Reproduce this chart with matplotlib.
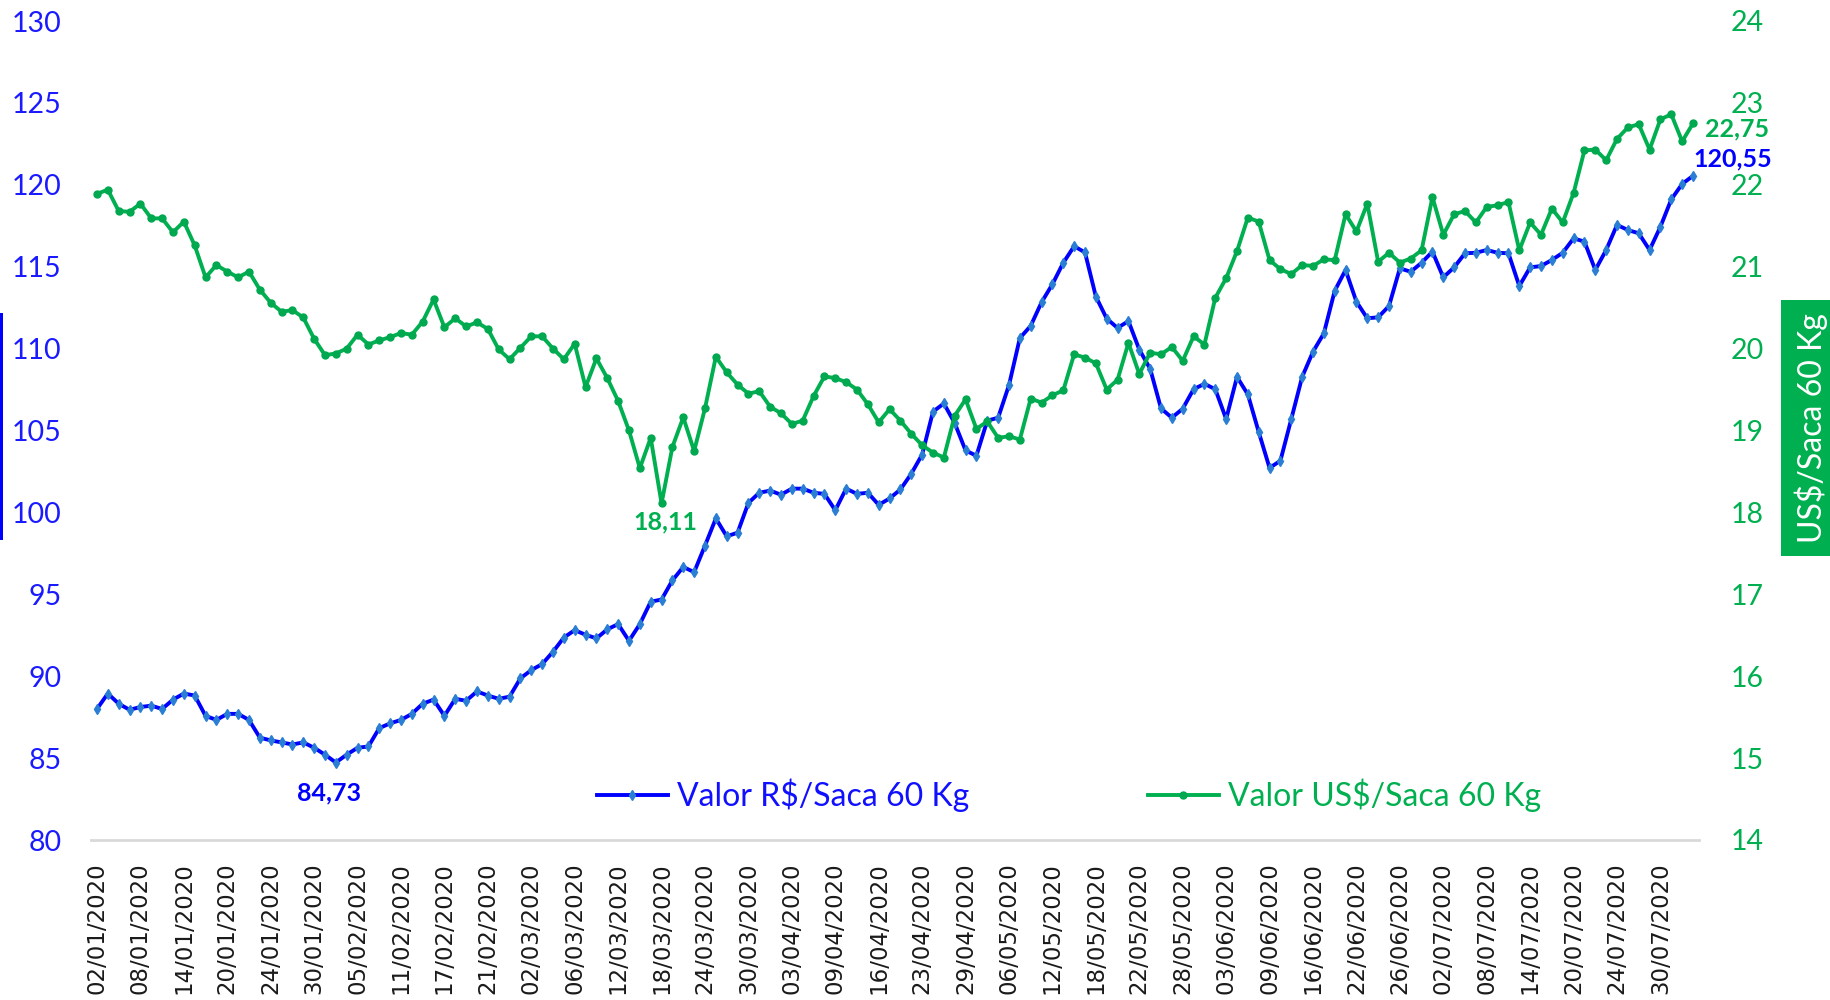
import pandas as pd
import matplotlib
matplotlib.use("Agg")
import matplotlib.pyplot as plt
from matplotlib.patches import Rectangle

# trading days 02/01/2020 .. 04/08/2020 (B3 holidays removed)
holidays = ["2020-02-24", "2020-02-25", "2020-04-10", "2020-04-21", "2020-05-01", "2020-06-11"]
dates = pd.bdate_range("2020-01-02", "2020-08-04")
dates = dates[~dates.isin(pd.to_datetime(holidays))]
labels = [d.strftime("%d/%m/%Y") for d in dates]

valor_rs = [
    88.00, 88.94, 88.32, 87.95, 88.12, 88.20, 88.00, 88.57, 88.94, 88.82,
    87.58, 87.33, 87.70, 87.70, 87.33, 86.25, 86.08, 85.96, 85.83, 85.96,
    85.63, 85.21, 84.73, 85.21, 85.63, 85.71, 86.83, 87.12, 87.33, 87.70,
    88.32, 88.57, 87.58, 88.62, 88.50, 89.07, 88.82, 88.62, 88.75, 89.87,
    90.37, 90.74, 91.49, 92.36, 92.81, 92.53, 92.31, 92.86, 93.18, 92.16,
    93.18, 94.55, 94.68, 95.85, 96.67, 96.35, 97.97, 99.63, 98.54, 98.76,
    100.58, 101.20, 101.33, 101.08, 101.45, 101.45, 101.20, 101.13, 100.13, 101.45,
    101.13, 101.20, 100.46, 100.85, 101.40, 102.36, 103.53, 106.15, 106.65, 105.45,
    103.78, 103.46, 105.60, 105.78, 107.77, 110.64, 111.39, 112.83, 113.93, 115.24,
    116.25, 115.87, 113.18, 111.83, 111.26, 111.68, 109.94, 108.77, 106.35, 105.78,
    106.33, 107.52, 107.85, 107.52, 105.70, 108.27, 107.20, 104.91, 102.71, 103.16,
    105.70, 108.27, 109.81, 110.93, 113.53, 114.80, 112.86, 111.85, 111.91, 112.60,
    114.90, 114.69, 115.24, 115.92, 114.35, 114.96, 115.82, 115.85, 116.02, 115.85,
    115.82, 113.82, 114.96, 115.04, 115.41, 115.85, 116.73, 116.53, 114.80, 116.02,
    117.55, 117.24, 117.04, 116.02, 117.44, 119.11, 120.05, 120.55,
]

valor_us = [
    21.89, 21.94, 21.68, 21.67, 21.77, 21.59, 21.59, 21.42, 21.55, 21.26,
    20.87, 21.02, 20.94, 20.87, 20.94, 20.72, 20.56, 20.45, 20.47, 20.38,
    20.12, 19.92, 19.94, 20.00, 20.17, 20.05, 20.10, 20.14, 20.19, 20.17,
    20.33, 20.60, 20.26, 20.37, 20.27, 20.32, 20.24, 19.99, 19.87, 20.01,
    20.15, 20.15, 20.00, 19.87, 20.06, 19.53, 19.88, 19.64, 19.36, 19.00,
    18.54, 18.91, 18.11, 18.80, 19.16, 18.75, 19.27, 19.90, 19.71, 19.56,
    19.45, 19.48, 19.29, 19.21, 19.08, 19.12, 19.42, 19.66, 19.64, 19.59,
    19.50, 19.32, 19.10, 19.26, 19.12, 18.96, 18.82, 18.73, 18.67, 19.18,
    19.38, 19.02, 19.11, 18.91, 18.93, 18.89, 19.39, 19.34, 19.43, 19.49,
    19.93, 19.89, 19.82, 19.50, 19.62, 20.07, 19.69, 19.95, 19.93, 20.02,
    19.85, 20.15, 20.05, 20.62, 20.86, 21.19, 21.60, 21.55, 21.08, 20.97,
    20.91, 21.02, 21.01, 21.09, 21.08, 21.64, 21.43, 21.77, 21.06, 21.17,
    21.05, 21.10, 21.20, 21.85, 21.39, 21.64, 21.68, 21.54, 21.73, 21.75,
    21.79, 21.20, 21.54, 21.39, 21.71, 21.54, 21.90, 22.42, 22.43, 22.30,
    22.56, 22.70, 22.74, 22.43, 22.80, 22.86, 22.53, 22.75,
]

left_ticks = [80, 85, 90, 95, 100, 105, 110, 115, 120, 125, 130]
right_ticks = [14, 15, 16, 17, 18, 19, 20, 21, 22, 23, 24]

BLUE = "#0000FF"
BLUE_MK = "#2A7FD4"
GREEN = "#00B050"
GREEN_MK = "#00A84F"

x = list(range(len(labels)))

fig = plt.figure(figsize=(18.31, 10), dpi=100)
ax = fig.add_axes([0.0497, 0.16, 0.8782, 0.819])
ax2 = ax.twinx()

l1, = ax.plot(x, valor_rs, color=BLUE, lw=2.8, marker="d", ms=5.5,
              mfc=BLUE_MK, mec=BLUE_MK, label="Valor R$/Saca 60 Kg")
l2, = ax2.plot(x, valor_us, color=GREEN, lw=2.8, marker="o", ms=5,
               mfc=GREEN_MK, mec=GREEN_MK, label="Valor US$/Saca 60 Kg")

ax.set_xlim(-0.55, len(x) - 0.45)
ax.set_ylim(80, 130)
ax2.set_ylim(14, 24)
ax.set_yticks(left_ticks)
ax2.set_yticks(right_ticks)
ax.set_xticks(x[::4])
ax.set_xticklabels(labels[::4], rotation=90, fontsize=16.5,
                   family="DejaVu Sans", color="#1a1a1a")

for a in (ax, ax2):
    for s in a.spines.values():
        s.set_visible(False)
ax.spines["bottom"].set_visible(True)
ax.spines["bottom"].set_color("#D9D9D9")
ax.spines["bottom"].set_linewidth(2)

ax.tick_params(axis="x", length=0, pad=16)
ax.tick_params(axis="y", length=0, pad=21, labelsize=20.5, labelcolor="#1a1aff")
ax2.tick_params(axis="y", length=0, pad=23, labelsize=20.5, labelcolor=GREEN)
for t in ax.get_yticklabels() + ax2.get_yticklabels():
    t.set_family("Lato")

# data labels
ann = dict(fontsize=18, fontweight="bold", family="Lato", textcoords="offset points")
ax.annotate("84,73", (22, valor_rs[22]), xytext=(-5, -22), color=BLUE,
            ha="center", va="center", **ann)
ax2.annotate("18,11", (52, valor_us[52]), xytext=(2.6, -13.7), color=GREEN,
             ha="center", va="center", **ann)
ax2.annotate("22,75", (147, valor_us[147]), xytext=(8.6, -4.3), color=GREEN,
             ha="left", va="center", **ann)
ax.annotate("120,55", (147, valor_rs[147]), xytext=(0, 12), color=BLUE,
            ha="left", va="center", **ann)

leg = fig.legend(handles=[l1, l2], loc="center", bbox_to_anchor=(0.584, 0.205),
                 ncol=2, frameon=False, handlelength=2.2, handletextpad=0.3,
                 columnspacing=5.6, prop={"family": "Lato", "size": 23})
leg.get_texts()[0].set_color("#1010FF")
leg.get_texts()[1].set_color(GREEN)

# axis titles (right one boxed in green, left one cut off at the edge)
fig.text(1811 / 1831, 1 - 428 / 1000, "US$/Saca 60 Kg", rotation=90, color="white",
         fontsize=23, family="Lato", ha="center", va="center",
         bbox=dict(boxstyle="square,pad=0.4", fc=GREEN, ec="none"))
fig.add_artist(Rectangle((0, 0.46), 3.5 / 1831, 0.227, transform=fig.transFigure,
                         color=BLUE, lw=0))

fig.savefig("out.png", dpi=100)
